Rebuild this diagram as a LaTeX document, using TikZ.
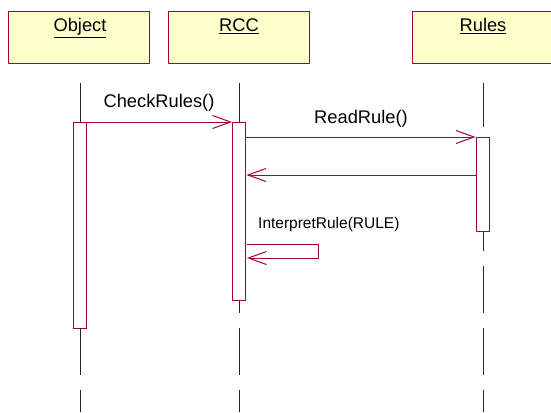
\documentclass[tikz,border=0pt]{standalone}
\usepackage{fontspec}
\setmainfont{Liberation Sans}
\usetikzlibrary{arrows.meta}
\definecolor{umlred}{RGB}{165,0,60}
\definecolor{umlyellow}{RGB}{255,255,204}
\tikzset{
  x=1pt, y=-1pt,
  header/.style={draw=umlred, fill=umlyellow, line width=1pt, minimum width=141pt, minimum height=52pt, inner sep=0pt, anchor=north west},
  hlabel/.style={anchor=base, inner sep=0pt, font=\fontsize{18.3}{20}\selectfont},
  lifeline/.style={draw=black!85, line width=1pt, dash pattern=on 47pt off 15pt, dash phase=3pt},
  actbox/.style={draw=umlred, fill=white, line width=1pt, minimum width=13pt, inner sep=0pt, anchor=north},
  msg/.style={draw=umlred, line width=1pt, -{Straight Barb[length=18pt,width=13pt,line width=1pt]}},
  mlabel/.style={anchor=base, inner sep=0pt, font=\fontsize{18.3}{20}\selectfont},
  slabel/.style={anchor=base west, inner sep=0pt, font=\fontsize{15.5}{18}\selectfont},
}
\begin{document}
\begin{tikzpicture}
\useasboundingbox (0,0) rectangle (551,412);
% headers
\node[header] (objh) at (8,11) {};
\node[header] (rcch) at (168,11) {};
\node[header, minimum width=150pt] (rulh) at (412,11) {};
\node[hlabel] (objt) at (80,32) {\underline{Object}};
\node[hlabel] (rcct) at (239,32) {\underline{RCC}};
\node[hlabel] (rult) at (483,32) {\underline{Rules}};
% lifelines
\coordinate (objtop) at (80,83);  \coordinate (objbot) at (80,412);
\coordinate (rcctop) at (239,83); \coordinate (rccbot) at (239,412);
\coordinate (rultop) at (483,83); \coordinate (rulbot) at (483,412);
\draw[lifeline] (objtop) -- (objbot);
\draw[lifeline] (rcctop) -- (rccbot);
\draw[lifeline] (rultop) -- (rulbot);
% activations
\node[actbox, minimum height=206pt] (objact) at (79.5,122) {};
\node[actbox, minimum height=178pt] (rccact) at (239,122) {};
\node[actbox, minimum height=94pt] (rulact) at (482.5,137) {};
% messages
\draw[msg] (objact.north east) -- (rccact.north west);
\node[mlabel] (m1) at (159,107) {CheckRules()};
\draw[msg] (rccact.east |- rulact.north west) -- (rulact.north west);
\node[mlabel] (m2) at (361,123) {ReadRule()};
\coordinate (ret) at (246.5,175);
\draw[msg] (rulact.west |- ret) -- (ret);
\node[slabel] (m3) at (258,228) {InterpretRule(RULE)};
\coordinate (s1) at (247,244);
\coordinate (s2) at (318,244);
\coordinate (s3) at (318,258);
\coordinate (s4) at (247,258);
\draw[msg] (s1) -- (s2) -- (s3) -- (s4);
\end{tikzpicture}
\end{document}
